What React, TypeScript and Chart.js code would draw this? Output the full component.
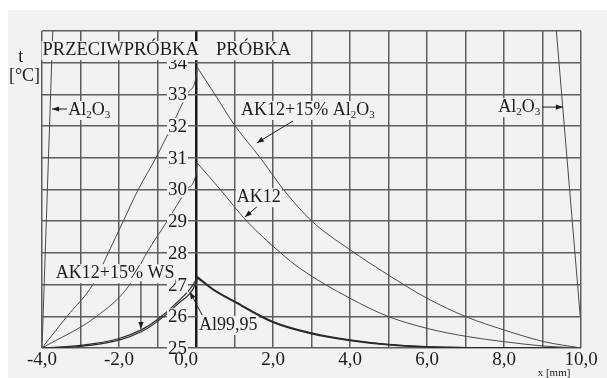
import React, { useEffect, useRef } from 'react';
import { Chart, registerables } from 'chart.js';

Chart.register(...registerables);

// ---- axis ticks ----
const xTickValues = [-4, -2, 0, 2, 4, 6, 8, 10];
const xTickLabels = ['-4,0', '-2,0', '0,0', '2,0', '4,0', '6,0', '8,0', '10,0'];
const yTickValues = [25, 26, 27, 28, 29, 30, 31, 32, 33, 34];
const yTickLabels = ['25', '26', '27', '28', '29', '30', '31', '32', '33', '34'];

// ---- series (x in mm, t in °C) ----
// AK12+15% Al2O3
const compAl2O3LeftX = [-4, -3.35, -2.68, -2.28, -1.89, -1.5, -1.04, -0.63, -0.24, 0, 0.03];
const compAl2O3LeftT = [25, 26, 27, 28, 29, 30, 31, 32, 33, 33.55, 33.86];
const compAl2O3RightX = [0.03, 0.49, 1.02, 1.67, 2.27, 3.01, 4.0, 5.0, 6.0, 7.05, 8.0, 9.04, 10];
const compAl2O3RightT = [33.86, 33, 32, 31, 30, 29, 28.1, 27.3, 26.57, 25.97, 25.57, 25.2, 25];
// AK12
const ak12LeftX = [-4, -2.58, -1.72, -1.28, -0.75, -0.24, 0, 0.03];
const ak12LeftT = [25, 26, 27, 28, 29, 30, 30.5, 30.84];
const ak12RightX = [0.03, 0.63, 1.32, 2.2, 2.7, 4.0, 5.0, 6.0, 7.05, 8.0, 9.04, 10];
const ak12RightT = [30.84, 30, 29, 28, 27.51, 26.57, 25.99, 25.62, 25.36, 25.2, 25.06, 25];
// AK12+15% WS
const wsLeftX = [-4, -3, -2, -1.41, -1, -0.5, 0, 0.03];
const wsLeftT = [25, 25.08, 25.3, 25.58, 25.9, 26.43, 27.15, 27.25];
const wsRightX = [0.03, 0.44, 1.02, 2.0, 3.0, 4.0, 5.0, 6.0, 7.0, 8.0, 10];
const wsRightT = [27.25, 26.86, 26.46, 25.83, 25.47, 25.25, 25.11, 25.04, 25.01, 25.0, 25.0];
// Al99,95
const alLeftX = [-4, -3, -2, -1.41, -1, -0.5, 0, 0.03];
const alLeftT = [25, 25.05, 25.25, 25.52, 25.84, 26.36, 27.05, 27.18];
const alRightX = [0.03, 0.44, 1.02, 2.0, 3.0, 4.0, 5.0, 6.0, 7.0, 8.0, 10];
const alRightT = [27.22, 26.84, 26.44, 25.81, 25.45, 25.24, 25.1, 25.03, 25.01, 25.0, 25.0];
// Al2O3 (counter-specimen) left and right
const al2o3LeftX = [-4, -3.72];
const al2o3LeftT = [25, 35];
const al2o3RightX = [9.36, 9.98];
const al2o3RightT = [35, 26.0];

const FONT = "'Liberation Serif', 'DejaVu Serif', serif";
const BG = '#f2f2f2';
const INK = '#1c1c1c';

type Part = { t: string; sub?: boolean };

export default function App() {
  const ref = useRef<HTMLCanvasElement>(null);

  useEffect(() => {
    const canvas = ref.current;
    if (!canvas) return;

    const pts = (xs: number[], ts: number[]) => xs.map((x, i) => ({ x, y: ts[i] }));
    const ds = (label: string, xs: number[], ts: number[], width: number, color: string) => ({
      label,
      data: pts(xs, ts),
      borderColor: color,
      borderWidth: width,
      pointRadius: 0,
      fill: false,
      cubicInterpolationMode: 'monotone' as const,
    });

    const thin = '#4a4a4a';
    const thick = '#2a2a2a';

    const bgPlugin = {
      id: 'bg',
      beforeDraw(chart: any) {
        const c = chart.ctx;
        c.save();
        c.fillStyle = '#ffffff';
        c.fillRect(0, 0, chart.width, chart.height);
        c.fillStyle = BG;
        c.fillRect(8, 10, chart.width - 8, chart.height - 10);
        c.restore();
      },
    };

    const labelsPlugin = {
      id: 'labels',
      afterDatasetsDraw(chart: any) {
        const c: CanvasRenderingContext2D = chart.ctx;
        const xs = chart.scales.x;
        const ys = chart.scales.y;
        const area = chart.chartArea;
        const px = (v: number) => xs.getPixelForValue(v);
        const py = (v: number) => ys.getPixelForValue(v);

        const mainSize = 18;
        const subSize = 11;

        const measureRich = (parts: Part[], size: number) => {
          let w = 0;
          for (const p of parts) {
            c.font = `${p.sub ? subSize : size}px ${FONT}`;
            w += c.measureText(p.t).width;
          }
          return w;
        };
        const drawRich = (parts: Part[], x: number, y: number, align: 'left' | 'right', size = mainSize) => {
          const w = measureRich(parts, size);
          let cx = align === 'right' ? x - w : x;
          c.fillStyle = BG;
          c.fillRect(cx - 1, y - 14, w + 2, 19);
          c.fillStyle = INK;
          c.textBaseline = 'alphabetic';
          c.textAlign = 'left';
          for (const p of parts) {
            c.font = `${p.sub ? subSize : size}px ${FONT}`;
            c.fillText(p.t, cx, p.sub ? y + 3 : y);
            cx += c.measureText(p.t).width;
          }
        };
        const arrow = (x1: number, y1: number, x2: number, y2: number) => {
          const a = Math.atan2(y2 - y1, x2 - x1);
          c.strokeStyle = INK;
          c.lineWidth = 1;
          c.beginPath();
          c.moveTo(x1, y1);
          c.lineTo(x2, y2);
          c.stroke();
          const L = 7;
          const W = 2.6;
          c.fillStyle = INK;
          c.beginPath();
          c.moveTo(x2, y2);
          c.lineTo(x2 - L * Math.cos(a) + W * Math.sin(a), y2 - L * Math.sin(a) - W * Math.cos(a));
          c.lineTo(x2 - L * Math.cos(a) - W * Math.sin(a), y2 - L * Math.sin(a) + W * Math.cos(a));
          c.closePath();
          c.fill();
        };

        c.save();

        // y tick labels drawn beside the x=0 axis
        c.font = `19px ${FONT}`;
        c.textAlign = 'right';
        c.textBaseline = 'middle';
        const x0 = px(0);
        yTickValues.forEach((v, i) => {
          const t = yTickLabels[i];
          const w = c.measureText(t).width;
          const y = py(v);
          c.fillStyle = BG;
          c.fillRect(x0 - 9 - w - 1, y - 8, w + 2, 16);
          c.fillStyle = INK;
          c.fillText(t, x0 - 9, y + 1);
        });

        // x tick labels
        c.textAlign = 'center';
        xTickValues.forEach((v, i) => {
          const shift = v === 0 ? -10 : 0;
          c.fillStyle = INK;
          c.fillText(xTickLabels[i], px(v) + shift, area.bottom + 12);
        });
        c.font = `11px ${FONT}`;
        c.fillText('x [mm]', px(9.3), area.bottom + 25);

        // axis title
        c.font = `18px ${FONT}`;
        c.textAlign = 'left';
        c.textBaseline = 'alphabetic';
        c.fillText('t', px(-4.62), py(34.02));
        c.fillText('[°C]', px(-4.86), py(33.42));

        // region titles
        drawRich([{ t: 'PRZECIWPRÓBKA' }], px(-4) + 0.5, py(34.24), 'left', 18.5);
        drawRich([{ t: 'PRÓBKA' }], px(0.52), py(34.24), 'left', 18.5);

        // annotations
        const al2o3: Part[] = [{ t: 'Al' }, { t: '2', sub: true }, { t: 'O' }, { t: '3', sub: true }];
        drawRich(al2o3, px(-3.32), py(32.35), 'left');
        arrow(px(-3.35), py(32.54), px(-3.74), py(32.54));

        drawRich(al2o3, px(8.94), py(32.44), 'right');
        arrow(px(8.99), py(32.6), px(9.53), py(32.6));

        drawRich([{ t: 'AK12+15% Al' }, { t: '2', sub: true }, { t: 'O' }, { t: '3', sub: true }], px(1.17), py(32.35), 'left');
        arrow(px(2.52), py(32.16), px(1.58), py(31.47));

        drawRich([{ t: 'AK12' }], px(1.06), py(29.6), 'left');
        arrow(px(1.58), py(29.45), px(1.27), py(29.13));

        drawRich([{ t: 'AK12+15% WS' }], px(-3.64), py(27.2), 'left');
        arrow(px(-1.43), py(27.11), px(-1.43), py(25.6));

        drawRich([{ t: 'Al99,95' }], px(0.08), py(25.57), 'left');
        arrow(px(0.16), py(26.04), px(-0.16), py(26.77));

        c.restore();
      },
    };

    const chart = new Chart(canvas, {
      type: 'line',
      data: {
        datasets: [
          ds('AK12+15% Al2O3 L', compAl2O3LeftX, compAl2O3LeftT, 1, thin),
          ds('AK12+15% Al2O3 R', compAl2O3RightX, compAl2O3RightT, 1, thin),
          ds('AK12 L', ak12LeftX, ak12LeftT, 1, thin),
          ds('AK12 R', ak12RightX, ak12RightT, 1, thin),
          ds('AK12+15% WS L', wsLeftX, wsLeftT, 1.2, thick),
          ds('AK12+15% WS R', wsRightX, wsRightT, 1.5, thick),
          ds('Al99,95 L', alLeftX, alLeftT, 1.2, thick),
          ds('Al99,95 R', alRightX, alRightT, 1.5, thick),
          ds('Al2O3 L', al2o3LeftX, al2o3LeftT, 1, thin),
          ds('Al2O3 R', al2o3RightX, al2o3RightT, 1, thin),
        ] as any,
      },
      options: {
        animation: false,
        responsive: false,
        devicePixelRatio: 1,
        layout: { padding: { left: 42, right: 26, top: 31, bottom: 30 } },
        plugins: { legend: { display: false }, tooltip: { enabled: false } },
        scales: {
          x: {
            type: 'linear',
            min: -4,
            max: 10,
            ticks: { stepSize: 1, display: false },
            border: { display: false },
            grid: {
              drawTicks: false,
              color: (ctx: any) => (ctx.tick && ctx.tick.value === 0 ? '#1a1a1a' : '#5e5e5e'),
              lineWidth: (ctx: any) => (ctx.tick && ctx.tick.value === 0 ? 2.5 : 1.5),
            },
            afterFit: (s: any) => {
              s.height = 0;
            },
          },
          y: {
            type: 'linear',
            min: 25,
            max: 35,
            ticks: { stepSize: 1, display: false },
            border: { display: false },
            grid: { drawTicks: false, color: '#5e5e5e', lineWidth: 1.5 },
            afterFit: (s: any) => {
              s.width = 0;
            },
          },
        },
      } as any,
      plugins: [bgPlugin, labelsPlugin],
    });

    return () => chart.destroy();
  }, []);

  return (
    <div style={{ position: 'absolute', left: 0, top: 0, width: 607, height: 378 }}>
      <canvas ref={ref} width={607} height={378} style={{ display: 'block' }} />
    </div>
  );
}
